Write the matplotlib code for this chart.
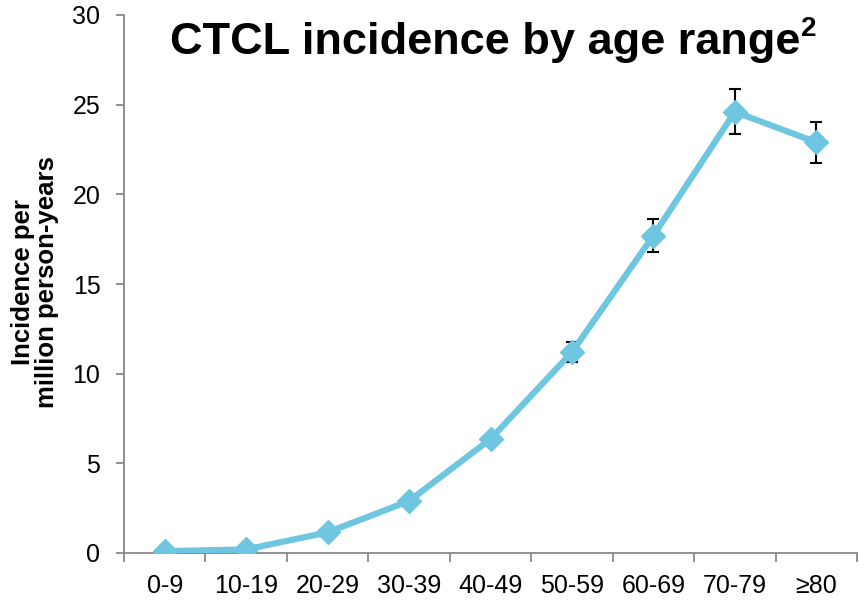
import matplotlib
matplotlib.use("Agg")
import matplotlib.pyplot as plt
import numpy as np

categories = ["0-9", "10-19", "20-29", "30-39", "40-49", "50-59", "60-69", "70-79", "≥80"]
incidence = [0.1, 0.2, 1.15, 2.9, 6.35, 11.2, 17.7, 24.6, 22.9]
err = [0.0, 0.0, 0.1, 0.15, 0.3, 0.55, 0.9, 1.25, 1.15]
yticks = [0, 5, 10, 15, 20, 25, 30]

plt.rcParams['font.family'] = ['Liberation Sans', 'DejaVu Sans']

fig = plt.figure(figsize=(8.65, 6.06), dpi=100)
ax = fig.add_axes([124/865, 1-553/606, (857-124)/865, (553-15)/606])

x = np.arange(len(categories))
color = '#6EC6E0'
ax.errorbar(x, incidence, yerr=err, fmt='none', ecolor='black', elinewidth=1.5,
            capsize=4, capthick=1.5, zorder=2)
ax.plot(x, incidence, color=color, lw=4.5, marker='D', markersize=12,
        markerfacecolor=color, markeredgecolor=color, zorder=3)

ax.set_xlim(-0.5, len(categories) - 0.5)
ax.set_ylim(0, 30)
ax.set_yticks(yticks)
ax.set_yticklabels([str(t) for t in yticks], fontsize=18)
ax.set_xticks(x)
ax.set_xticklabels(categories, fontsize=18)
ax.tick_params(axis='x', which='major', length=0, pad=15)
ax.set_xticks(np.arange(len(categories) + 1) - 0.5, minor=True)
ax.tick_params(axis='x', which='minor', length=6.5, color='#888888', width=1.3, direction='out')
ax.tick_params(axis='y', length=6, color='#888888', width=1.3, direction='out', pad=11)

for s in ['top', 'right']:
    ax.spines[s].set_visible(False)
for s in ['left', 'bottom']:
    ax.spines[s].set_color('#888888')
    ax.spines[s].set_linewidth(1.3)

fig.text(35/865, 1-282/606, "Incidence per\nmillion person-years", rotation=90,
         ha='center', va='center', fontsize=18.5, fontweight='bold', linespacing=1.0)

t = fig.text(170/865, 1-54/606, "CTCL incidence by age range", fontsize=32.5,
             fontweight='bold', ha='left', va='baseline')
fig.canvas.draw()
bb = t.get_window_extent()
fig.text((bb.x1 + 1)/865, 1-36/606, "2", fontsize=20, fontweight='bold',
         ha='left', va='baseline')

fig.savefig("out.png", dpi=100)
